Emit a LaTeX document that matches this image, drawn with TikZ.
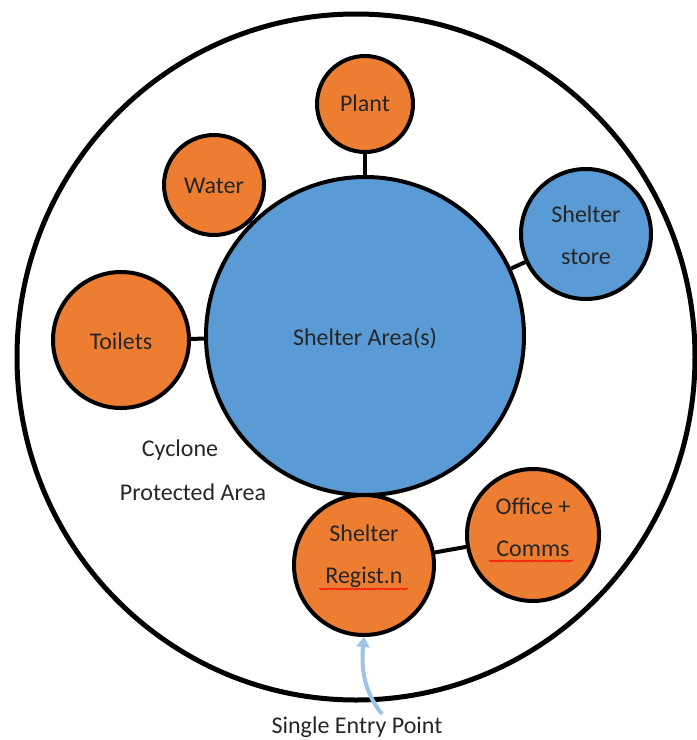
\documentclass[tikz,border=0pt]{standalone}
\usepackage{fontspec}
\setmainfont{Carlito}
\usetikzlibrary{arrows.meta,decorations.pathmorphing,shapes.geometric}
\definecolor{orng}{HTML}{ED7D31}
\definecolor{blu}{HTML}{5B9BD5}
\definecolor{lblu}{HTML}{9DC3E6}
\definecolor{txt}{HTML}{262626}
\begin{document}
\begin{tikzpicture}[x=1pt,y=-1pt,
  bubble/.style={circle,draw=black,line width=4pt,inner sep=0pt},
  obub/.style={bubble,fill=orng},
  bbub/.style={bubble,fill=blu},
  link/.style={line width=4pt},
  lbl/.style={text=txt,font=\fontsize{24}{42}\selectfont,align=center,inner sep=0pt},
  squig/.style={red,line width=0.7pt,decorate,decoration={snake,amplitude=0.9pt,segment length=3pt}}]
\useasboundingbox (0,0) rectangle (697,740);
\node[ellipse,draw=black,line width=5pt,minimum width=678pt,minimum height=686pt,inner sep=0pt] (outer) at (356,357) {};
\node[bbub,minimum size=318pt] (main) at (365,336) {};
\node[obub,minimum size=96pt] (plant) at (365,104) {};
\node[obub,minimum size=100pt] (water) at (214,185) {};
\node[bbub,minimum size=130pt] (store) at (586,234) {};
\node[obub,minimum size=136pt] (toilets) at (121,340) {};
\node[obub,minimum size=140pt] (regist) at (364,565) {};
\node[obub,minimum size=132pt] (office) at (533,535) {};
\node[lbl] (maint) at (365,338) {Shelter Area(s)};
\node[lbl] (plantt) at (365,103) {Plant};
\node[lbl] (watert) at (214,186) {Water};
\node[lbl] (storet) at (586,235) {Shelter\\store};
\node[lbl] (toilett) at (121,341) {Toilets};
\node[lbl] (registt) at (364,556) {Shelter\\Regist.n};
\node[lbl] (officet) at (533,527) {Office +\\Comms};
\node[lbl] (cyc1) at (180,450) {Cyclone};
\node[lbl] (cyc2) at (193,492) {Protected Area};
\node[lbl] (entry) at (357,727) {Single Entry Point};
\draw[link] (plant) -- (main);
\draw[link] (water) -- (main);
\draw[link] (store) -- (main);
\draw[link] (toilets) -- (main);
\draw[link] (regist) -- (office);
\coordinate (astart) at (382,714);
\draw[lblu,line width=4pt,-{Triangle[length=10pt,width=13pt]}] (astart) .. controls (364,692) and (361,668) .. (regist.south);
\draw[squig] (319,589) -- (408,589);
\draw[squig] (489,561) -- (573,561);
\end{tikzpicture}
\end{document}
